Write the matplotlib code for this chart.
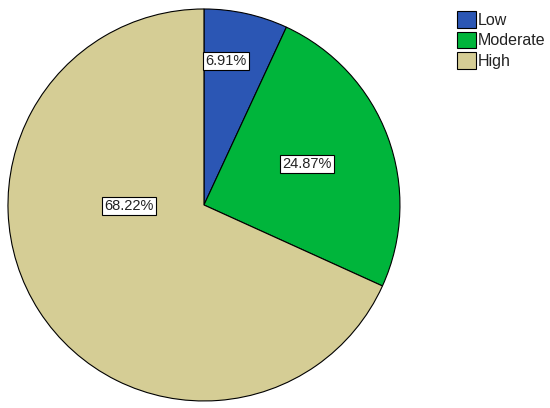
import matplotlib
matplotlib.use("Agg")
import matplotlib.pyplot as plt

plt.rcParams['font.family'] = ['Liberation Sans', 'DejaVu Sans']

# -----------------------------
# Data
# -----------------------------
categories = ["Low", "Moderate", "High"]
percent = [6.91, 24.87, 68.22]
colors = ["#2B56B4", "#00B53B", "#D5CD95"]
# where SPSS put the labels (data coords, radius = 1)
label_xy = [(0.112, 0.735), (0.525, 0.209), (-0.383, -0.005)]

fig = plt.figure(figsize=(5.5, 4.08), dpi=100)
ax = fig.add_axes([0.0145, 0.0172, 0.7127, 0.9608])

wedges, texts, autotexts = ax.pie(
    percent, colors=colors, startangle=90, counterclock=False,
    autopct=lambda p: "%.2f%%" % p, pctdistance=0.6,
    wedgeprops=dict(edgecolor="black", linewidth=0.8),
    textprops=dict(fontsize=10.5, color="#222222"))

for t, xy in zip(autotexts, label_xy):
    t.set_position(xy)
    t.set_bbox(dict(facecolor="white", edgecolor="black", linewidth=0.8, boxstyle="square,pad=0.15"))

ax.set_xlim(-1, 1)
ax.set_ylim(-1, 1)
ax.set_aspect("equal")

leg = fig.legend(wedges, categories, loc="upper left", bbox_to_anchor=(0.81, 1.0),
                 frameon=False, fontsize=11.5, handlelength=1.2, handleheight=1.2,
                 handletextpad=0.15, labelspacing=0.25, borderpad=0.2)
for txt in leg.get_texts():
    txt.set_color("#222222")

plt.savefig("out.png", dpi=100)
